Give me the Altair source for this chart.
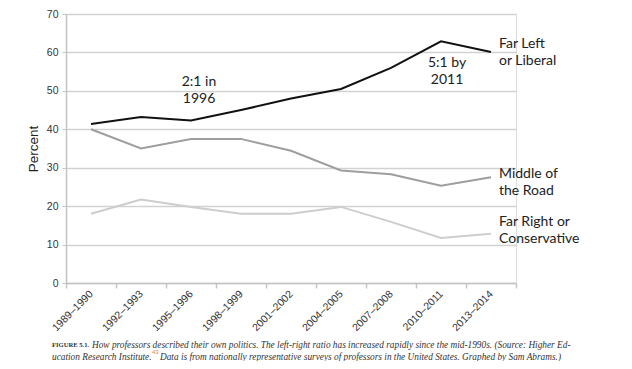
import altair as alt
import pandas as pd

periods = ["1989–1990", "1992–1993", "1995–1996", "1998–1999", "2001–2002",
           "2004–2005", "2007–2008", "2010–2011", "2013–2014"]
far_left = [41.4, 43.2, 42.3, 45.0, 48.0, 50.5, 56.0, 62.9, 60.1]
middle = [40.0, 35.0, 37.5, 37.5, 34.4, 29.3, 28.3, 25.3, 27.5]
far_right = [18.0, 21.7, 19.8, 18.0, 18.0, 19.8, 15.9, 11.7, 12.8]

series_names = ["Far Left or Liberal", "Middle of the Road", "Far Right or Conservative"]
series_labels = [["Far Left", "or Liberal"], ["Middle of", "the Road"], ["Far Right or", "Conservative"]]
series_colors = ["#111111", "#9e9e9e", "#cdcdcd"]
label_dy = [-8, -3, -12]

rows = []
for name, vals in zip(series_names, [far_left, middle, far_right]):
    for p, v in zip(periods, vals):
        rows.append({"period": p, "value": v, "series": name})
df = pd.DataFrame(rows)

X = alt.X("period:N", sort=periods, bandPosition=0.5,
          scale=alt.Scale(type="band", domain=periods, paddingInner=0, paddingOuter=0),
          axis=alt.Axis(title=None, grid=False, tickBand="extent", labelAngle=-45,
                        labelAlign="right", labelBaseline="middle", labelPadding=4,
                        tickSize=5, labelFont="Liberation Sans", labelFontSize=10.5,
                        labelColor="#333333", domainColor="#c4c4c4", tickColor="#c4c4c4",
                        domainWidth=1.5, tickWidth=1.5, labelOverlap=False))
Y = alt.Y("value:Q", scale=alt.Scale(domain=[0, 70], nice=False, zero=True),
          axis=alt.Axis(title="Percent", values=list(range(0, 80, 10)), grid=True,
                        gridColor="#d2d2d2", gridWidth=1.5, tickSize=4,
                        tickColor="#c4c4c4", domainColor="#c4c4c4", domainWidth=1.5,
                        labelFont="Liberation Sans", labelFontSize=10.5, labelColor="#333333",
                        labelPadding=4, titleFont="Liberation Sans", titleFontSize=13.5,
                        titleFontWeight="normal", titleColor="#222222", titlePadding=6,
                        labelOverlap=False))

color = alt.Color("series:N", scale=alt.Scale(domain=series_names, range=series_colors), legend=None)

lines = alt.Chart(df).mark_line(strokeWidth=2).encode(x=X, y=Y, color=color)

layers = [lines]

# end labels
for name, lab, dy in zip(series_names, series_labels, label_dy):
    last = df[(df.series == name) & (df.period == periods[-1])].iloc[0]
    ldf = pd.DataFrame({"period": [periods[-1]], "value": [last["value"]], "text": [lab]})
    layers.append(alt.Chart(ldf).mark_text(align="left", baseline="middle", dx=8, dy=dy,
                                           font="Lato", fontSize=14, lineHeight=17,
                                           color="#222222")
                  .encode(x=X, y=Y, text="text"))

# ratio annotations
ann = pd.DataFrame({"period": ["1995–1996", "2010–2011"],
                    "value": [52.3, 57.2],
                    "text": [["2:1 in", "1996"], ["5:1 by", "2011"]],
                    "dx": [8, 6]})
for i in range(len(ann)):
    layers.append(alt.Chart(ann.iloc[[i]]).mark_text(align="center", baseline="middle",
                                                     dx=int(ann.dx.iloc[i]), font="Lato",
                                                     fontSize=14, lineHeight=17, color="#222222")
                  .encode(x=X, y=Y, text="text"))

# caption
cap = [
    ("FIGURE 5.1.", -14, 331, "Liberation Serif", "normal", "bold", 6.6, "#333333"),
    ("How professors described their own politics. The left-right ratio has increased rapidly since the mid-1990s. (Source: Higher Ed-",
     26, 331, "Liberation Serif", "italic", "normal", 9.3, "#333333"),
    ("ucation Research Institute.", -14, 343, "Liberation Serif", "italic", "normal", 9.3, "#333333"),
    ("43", 86, 338, "Liberation Sans", "normal", "normal", 6, "#e08a2a"),
    ("Data is from nationally representative surveys of professors in the United States. Graphed by Sam Abrams.)",
     94, 343, "Liberation Serif", "italic", "normal", 9.3, "#333333"),
]
for t, cx, cy, f, fs, fw, size, col in cap:
    layers.append(alt.Chart(pd.DataFrame({"t": [t]})).mark_text(
        align="left", baseline="middle", font=f, fontStyle=fs, fontWeight=fw,
        fontSize=size, color=col).encode(x=alt.value(cx), y=alt.value(cy), text="t:N"))

chart = alt.layer(*layers).properties(
    width=450, height=269,
    padding={"left": 58, "top": 6, "right": 108, "bottom": 78},
    autosize="none",
).configure_view(stroke=None).configure(background="white")

chart.save("out.html", embed_options={"renderer": "svg", "actions": False})
